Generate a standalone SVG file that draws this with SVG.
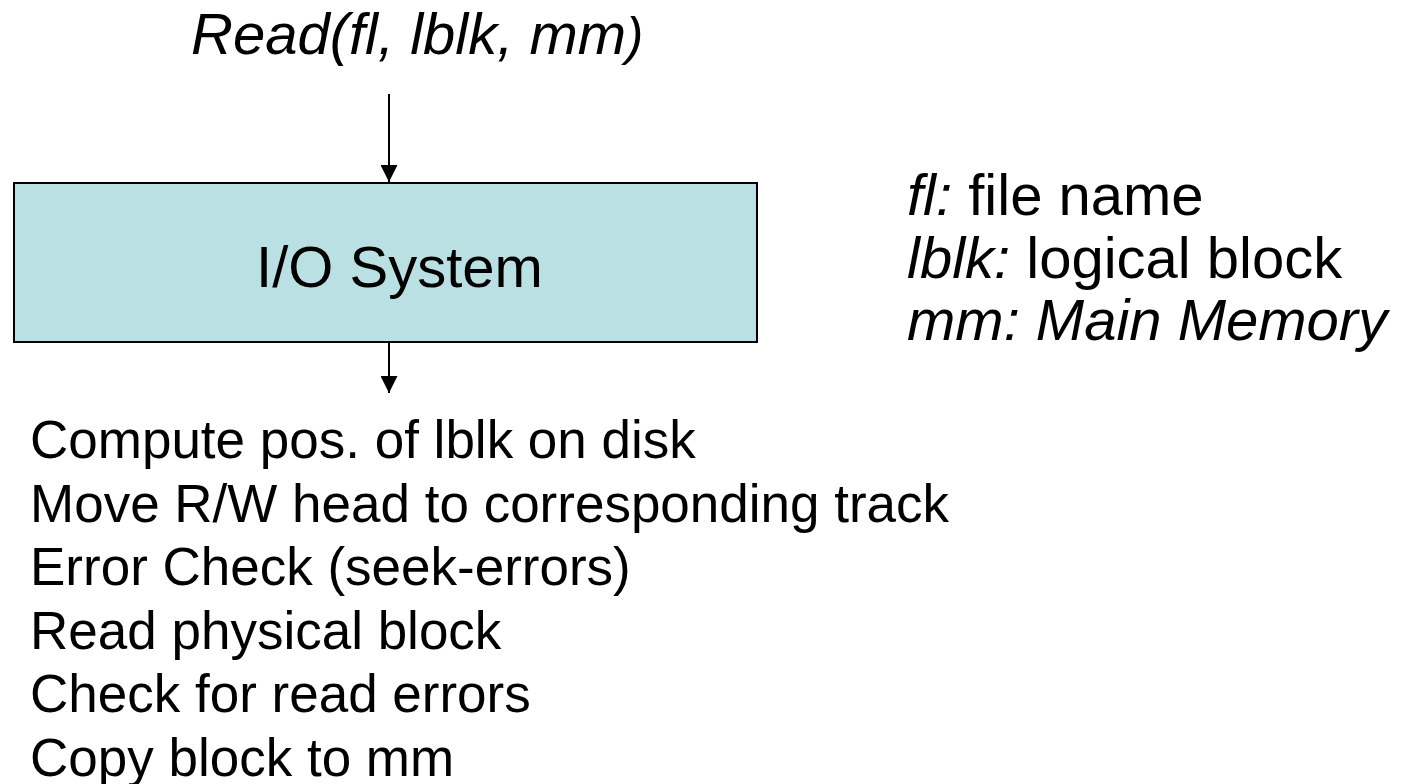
<svg xmlns="http://www.w3.org/2000/svg" width="1403" height="784" viewBox="0 0 1403 784">
<style>
text { font-family: "Liberation Sans", Arial, sans-serif; fill: #000; }
.it { font-style: italic; }
.title { font-size: 58px; }
.node-label { font-size: 58px; }
.legend { font-size: 58px; }
.list { font-size: 53px; }
.box { fill: #BBE0E3; stroke: #000; stroke-width: 2; }
.conn { stroke: #000; stroke-width: 2; fill: none; marker-end: url(#arrow); }
</style>
<defs>
<marker id="arrow" viewBox="0 0 10 10" refX="10" refY="5" markerUnits="userSpaceOnUse" markerWidth="17" markerHeight="17" orient="auto">
<path d="M0,0 L10,5 L0,10 Z" fill="#000"/>
</marker>
</defs>
<rect width="1403" height="784" fill="#fff"/>
<g id="title">
<text class="title it" x="191" y="54">Read(fl, lblk, mm<tspan font-size="52">)</tspan></text>
</g>
<g id="io-system">
<rect class="box" x="14" y="183" width="743" height="159"/>
<text class="node-label" x="399.5" y="287" text-anchor="middle">I/O System</text>
</g>
<g id="legend">
<text class="legend" x="907" y="215"><tspan class="it">fl:</tspan> file name</text>
<text class="legend" x="907" y="278"><tspan class="it">lblk:</tspan> logical block</text>
<text class="legend it" x="907" y="340">mm: Main Memory</text>
</g>
<g id="steps">
<text class="list" x="30" y="458">Compute pos. of lblk on disk</text>
<text class="list" x="30" y="521.5">Move R/W head to corresponding track</text>
<text class="list" x="30" y="585">Error Check (seek-errors)</text>
<text class="list" x="30" y="648.5">Read physical block</text>
<text class="list" x="30" y="712">Check for read errors</text>
<text class="list" x="30" y="775.5">Copy block to mm</text>
</g>
<g id="connectors">
<line class="conn" x1="389" y1="94" x2="389" y2="182"/>
<line class="conn" x1="389" y1="343" x2="389" y2="393"/>
</g>
</svg>
